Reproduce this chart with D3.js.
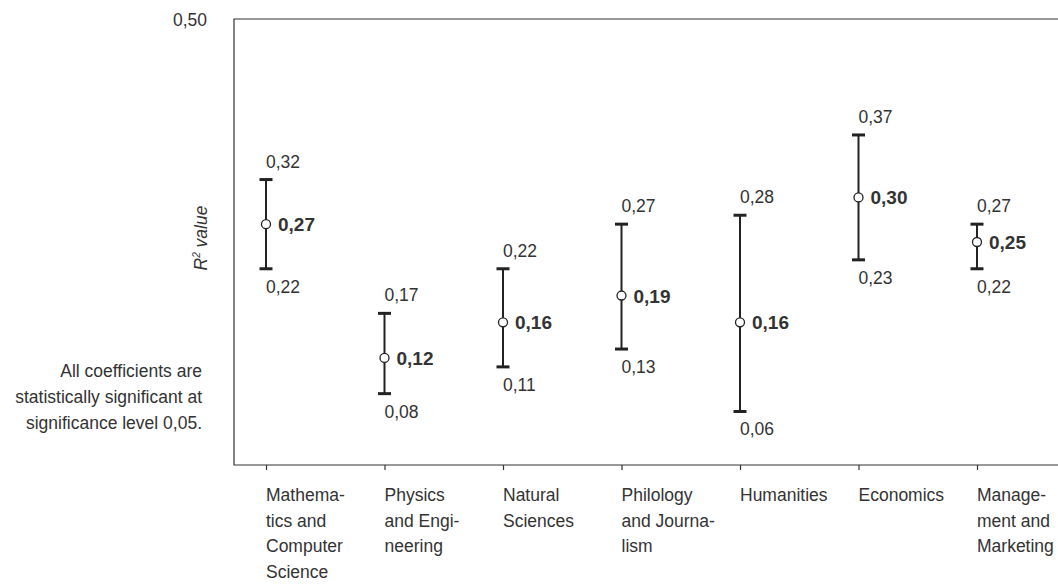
<!DOCTYPE html>
<html>
<head>
<meta charset="utf-8">
<script src="https://cdn.jsdelivr.net/npm/d3@7/dist/d3.min.js"></script>
<style>
  html, body { margin: 0; padding: 0; background: #fff; }
  svg { display: block; }
  text { font-family: "Liberation Sans", Arial, sans-serif; fill: #333; }
</style>
</head>
<body>
<svg id="chart" width="1058" height="586"></svg>
<script>
// R² by field of study: point estimate with confidence interval
const categories = [
  "Mathematics and Computer Science",
  "Physics and Engineering",
  "Natural Sciences",
  "Philology and Journalism",
  "Humanities",
  "Economics",
  "Management and Marketing"
];
const categoryLines = [
  ["Mathema-", "tics and", "Computer", "Science"],
  ["Physics", "and Engi-", "neering"],
  ["Natural", "Sciences"],
  ["Philology", "and Journa-", "lism"],
  ["Humanities"],
  ["Economics"],
  ["Manage-", "ment and", "Marketing"]
];
const estimate = [0.27, 0.12, 0.16, 0.19, 0.16, 0.30, 0.25];
const lower    = [0.22, 0.08, 0.11, 0.13, 0.06, 0.23, 0.22];
const upper    = [0.32, 0.17, 0.22, 0.27, 0.28, 0.37, 0.27];
const yMax = 0.50;
const yMaxLabel = "0,50";
const yTitle = "value";
const noteLines = ["All coefficients are", "statistically significant at", "significance level 0,05."];

const fmt = v => v.toFixed(2).replace(".", ",");

const plot = { left: 234, top: 19, right: 1070, bottom: 465 };
const FS = 17.5;

const svg = d3.select("#chart");

const x = d3.scalePoint()
  .domain(categories)
  .range([266, 977]);

const y = d3.scaleLinear()
  .domain([0, yMax])
  .range([plot.bottom, plot.top]);

// frame (open on the right, runs off the page)
svg.append("path")
  .attr("d", `M${plot.right},${plot.top}H${plot.left}V${plot.bottom}H${plot.right}`)
  .attr("stroke", "#333").attr("stroke-width", 1.2).attr("fill", "none");

// category ticks
const axis = d3.axisBottom(x).tickSize(5).tickFormat("").tickSizeOuter(0);
const gx = svg.append("g").attr("transform", `translate(0,${plot.bottom})`).call(axis);
gx.select(".domain").remove();
gx.selectAll(".tick line").attr("stroke", "#333").attr("stroke-width", 1.2);

// category labels
const lab = svg.append("g").selectAll("text")
  .data(categories)
  .join("text")
  .attr("x", d => x(d))
  .attr("y", 501)
  .attr("font-size", FS);
lab.each(function(d, i) {
  d3.select(this).selectAll("tspan")
    .data(categoryLines[i])
    .join("tspan")
    .attr("x", x(d))
    .attr("dy", (t, j) => j === 0 ? 0 : 25.5)
    .text(t => t);
});

// top value label of the axis
svg.append("text")
  .attr("x", 207).attr("y", y(yMax) + 7)
  .attr("text-anchor", "end")
  .attr("font-size", FS)
  .text(yMaxLabel);

// axis title: R² value
const t = svg.append("text")
  .attr("transform", `translate(207,238) rotate(-90)`)
  .attr("text-anchor", "middle")
  .attr("font-size", FS)
  .attr("font-style", "italic");
t.append("tspan").text("R");
t.append("tspan").attr("font-size", 10).attr("dy", -7).text("2");
t.append("tspan").attr("dy", 7).text(" " + yTitle);

// note
svg.append("text")
  .attr("text-anchor", "end")
  .attr("font-size", FS)
  .selectAll("tspan")
  .data(noteLines)
  .join("tspan")
  .attr("x", 202)
  .attr("y", (d, i) => 377 + i * 26)
  .text(d => d);

// intervals
const rows = categories.map((c, i) => ({ c, est: estimate[i], lo: lower[i], hi: upper[i] }));
const item = svg.append("g").selectAll("g.item").data(rows).join("g").attr("class", "item");

item.append("line")
  .attr("x1", d => x(d.c)).attr("x2", d => x(d.c))
  .attr("y1", d => y(d.hi)).attr("y2", d => y(d.lo))
  .attr("stroke", "#222").attr("stroke-width", 2);

const capW = 6.5;
item.append("line")
  .attr("x1", d => x(d.c) - capW).attr("x2", d => x(d.c) + capW)
  .attr("y1", d => y(d.hi)).attr("y2", d => y(d.hi))
  .attr("stroke", "#222").attr("stroke-width", 3);
item.append("line")
  .attr("x1", d => x(d.c) - capW).attr("x2", d => x(d.c) + capW)
  .attr("y1", d => y(d.lo)).attr("y2", d => y(d.lo))
  .attr("stroke", "#222").attr("stroke-width", 3);

item.append("circle")
  .attr("cx", d => x(d.c)).attr("cy", d => y(d.est))
  .attr("r", 4.5)
  .attr("fill", "#fff").attr("stroke", "#222").attr("stroke-width", 1.3);

item.append("text")
  .attr("x", d => x(d.c)).attr("y", d => y(d.hi) - 12)
  .attr("font-size", FS)
  .text(d => fmt(d.hi));
item.append("text")
  .attr("x", d => x(d.c)).attr("y", d => y(d.lo) + 24)
  .attr("font-size", FS)
  .text(d => fmt(d.lo));
item.append("text")
  .attr("x", d => x(d.c) + 12).attr("y", d => y(d.est) + 7)
  .attr("font-size", 19)
  .attr("font-weight", "bold")
  .text(d => fmt(d.est));
</script>
</body>
</html>
